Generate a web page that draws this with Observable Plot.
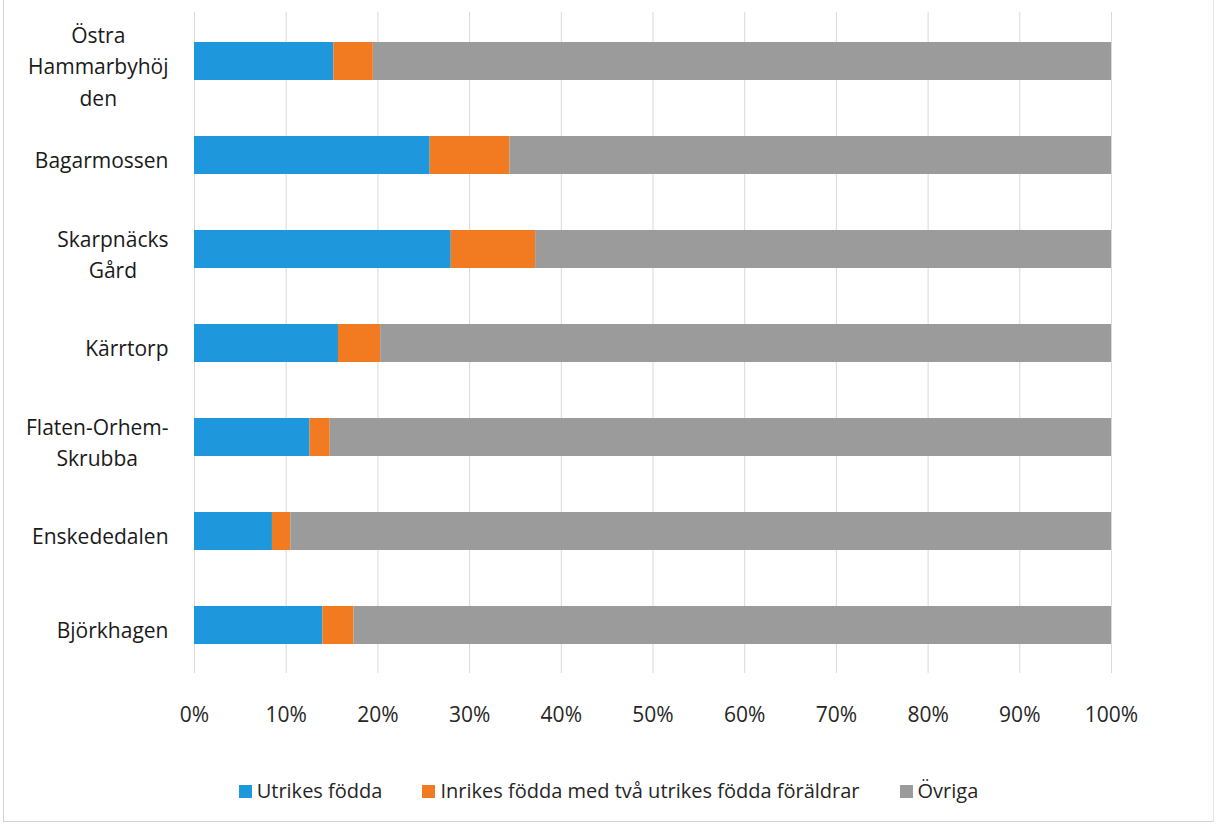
<!DOCTYPE html>
<html>
<head>
<meta charset="utf-8">
<script src="https://cdn.jsdelivr.net/npm/d3@7"></script>
<script src="https://cdn.jsdelivr.net/npm/@observablehq/plot@0.6"></script>
<style>
  html, body { margin: 0; padding: 0; background: #fff; }
  #frame { position: absolute; left: 3px; top: 0; width: 1209px; height: 821px;
           border-left: 1px solid #d4d4d4; border-right: 1px solid #e4e4e4; border-bottom: 1px solid #d4d4d4; }
  #chart { position: absolute; left: 0; top: 0; }
  #legend { position: absolute; left: 0; top: 779px; width: 1217px; display: flex; justify-content: center;
            gap: 40px; font-family: "Open Sans", sans-serif; font-size: 20px; color: #262626; line-height: 24px; }
  .item { display: flex; align-items: center; }
  .sw { width: 13px; height: 13px; margin-right: 5px; display: inline-block; }
</style>
</head>
<body>
<div id="frame"></div>
<div id="chart"></div>
<div id="legend"></div>
<script>
const categories = ["Östra Hammarbyhöjden", "Bagarmossen", "Skarpnäcks Gård", "Kärrtorp", "Flaten-Orhem-Skrubba", "Enskededalen", "Björkhagen"];
const categoryLabels = ["Östra\nHammarbyhöj\nden", "Bagarmossen", "Skarpnäcks\nGård", "Kärrtorp", "Flaten-Orhem-\nSkrubba", "Enskededalen", "Björkhagen"];
const seriesNames = ["Utrikes födda", "Inrikes födda med två utrikes födda föräldrar", "Övriga"];
const utrikesFodda = [15.2, 25.7, 28.0, 15.7, 12.6, 8.5, 14.0];
const inrikesFodda = [4.3, 8.7, 9.2, 4.6, 2.2, 2.0, 3.4];
const ovriga = [80.5, 65.6, 62.8, 79.7, 85.2, 89.5, 82.6];
const xTicks = [0, 10, 20, 30, 40, 50, 60, 70, 80, 90, 100];
const colors = ["#1f97dd", "#f27b21", "#9b9b9b"];

const seriesValues = [utrikesFodda, inrikesFodda, ovriga];
const data = [];
categories.forEach((c, i) => {
  seriesNames.forEach((s, j) => data.push({cat: c, series: s, value: seriesValues[j][i]}));
});

const W = 1217, H = 740, mL = 194, mR = 106, mT = 12, mB = 67;
const fontSize = 21;
const labelRight = 168;

const ctx = document.createElement("canvas").getContext("2d");
ctx.font = `${fontSize}px "Open Sans"`;
const labelMarks = categories.map((c, i) => {
  const lines = categoryLabels[i].split("\n");
  const w = Math.max(...lines.map(l => ctx.measureText(l).width));
  const center = labelRight - w / 2;
  return Plot.text([c], {
    y: d => d, text: () => categoryLabels[i], frameAnchor: "left", textAnchor: "middle",
    dx: center - mL, dy: lines.length > 1 ? 3 : 3, lineHeight: 1.48, fontSize, fill: "#1a1a1a"
  });
});

const chart = Plot.plot({
  width: W, height: H,
  marginLeft: mL, marginRight: mR, marginTop: mT, marginBottom: mB,
  style: {fontFamily: "Open Sans, sans-serif", background: "transparent"},
  x: {domain: [0, 100], ticks: xTicks, tickFormat: d => d + "%", label: null},
  y: {domain: categories, paddingInner: 0.6, paddingOuter: 0.3, axis: null, label: null},
  color: {domain: seriesNames, range: colors},
  marks: [
    Plot.gridX(xTicks, {stroke: "#d9d9d9", strokeOpacity: 1, strokeWidth: 1}),
    Plot.barX(data, Plot.stackX({x: "value", y: "cat", fill: "series", order: seriesNames})),
    Plot.axisX({ticks: xTicks, tickFormat: d => d + "%", tickSize: 0, tickPadding: 34, fontSize, fill: "#262626", label: null}),
    ...labelMarks
  ]
});
document.getElementById("chart").appendChild(chart);

const legend = document.getElementById("legend");
seriesNames.forEach((s, j) => {
  const item = document.createElement("div");
  item.className = "item";
  const sw = document.createElement("span");
  sw.className = "sw";
  sw.style.background = colors[j];
  item.appendChild(sw);
  item.appendChild(document.createTextNode(s));
  legend.appendChild(item);
});
</script>
</body>
</html>
